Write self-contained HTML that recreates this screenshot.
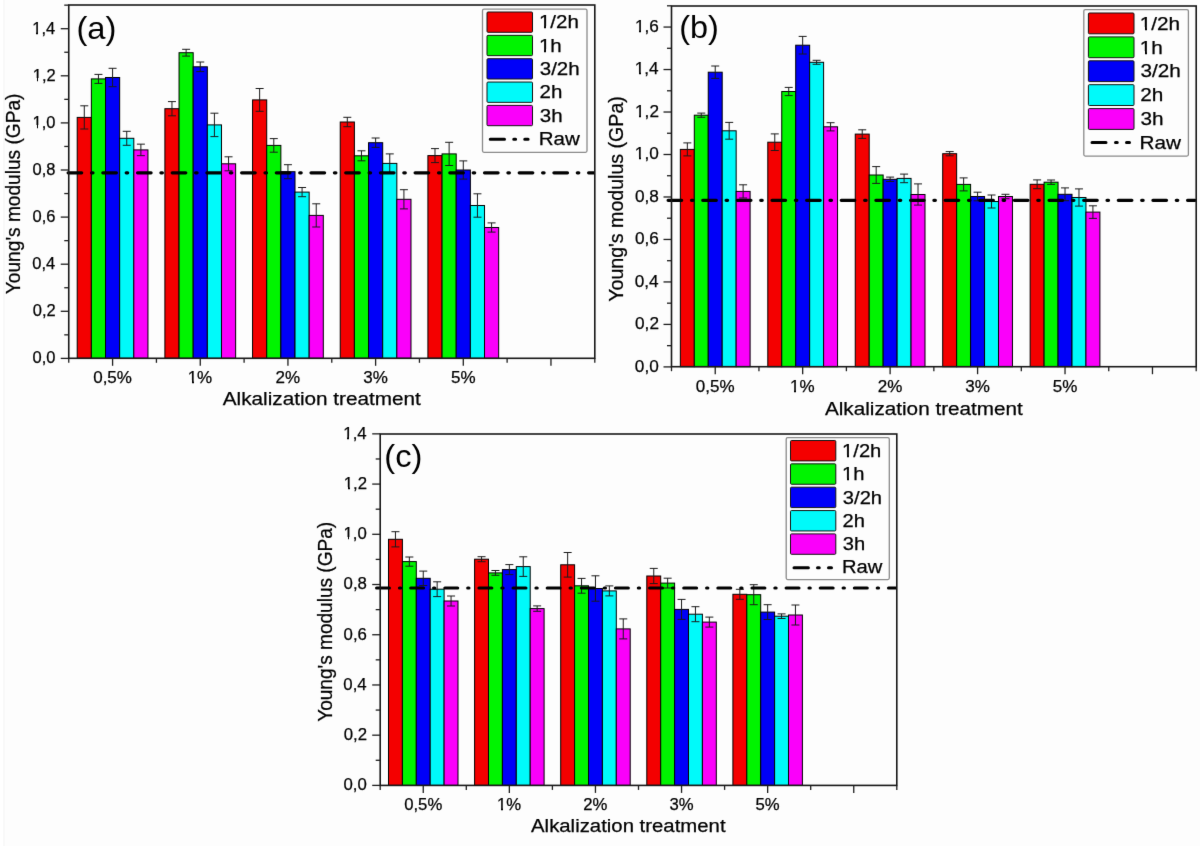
<!DOCTYPE html>
<html><head><meta charset="utf-8"><style>
html,body{margin:0;padding:0;background:#fdfdfd;}
svg{display:block;}
text{font-family:"Liberation Sans",sans-serif;stroke:#000;stroke-width:0.25px;}
</style></head><body>
<svg width="1200" height="846" viewBox="0 0 1200 846">
<defs><filter id="bl" color-interpolation-filters="sRGB" x="0" y="0" width="1200" height="846" filterUnits="userSpaceOnUse"><feConvolveMatrix order="3" kernelMatrix="0.00524 0.06192 0.00524 0.06192 0.73137 0.06192 0.00524 0.06192 0.00524" divisor="1" edgeMode="duplicate" preserveAlpha="true"/></filter></defs>
<g filter="url(#bl)">
<rect width="1200" height="846" fill="#fdfdfd"/>
<rect width="3.2" height="846" fill="#ffffff"/>
<rect x="3.2" width="1.6" height="846" fill="#f8f8f8"/>
<rect x="77.21" y="117.40" width="14.15" height="240.90" fill="#f40000" stroke="#000" stroke-width="1"/>
<rect x="91.36" y="78.90" width="14.15" height="279.40" fill="#00f400" stroke="#000" stroke-width="1"/>
<rect x="105.51" y="77.50" width="14.15" height="280.80" fill="#0000f8" stroke="#000" stroke-width="1"/>
<rect x="119.66" y="138.30" width="14.15" height="220.00" fill="#00fafa" stroke="#000" stroke-width="1"/>
<rect x="133.81" y="149.90" width="14.15" height="208.40" fill="#fa00fa" stroke="#000" stroke-width="1"/>
<rect x="164.89" y="108.70" width="14.15" height="249.60" fill="#f40000" stroke="#000" stroke-width="1"/>
<rect x="179.04" y="52.70" width="14.15" height="305.60" fill="#00f400" stroke="#000" stroke-width="1"/>
<rect x="193.19" y="66.80" width="14.15" height="291.50" fill="#0000f8" stroke="#000" stroke-width="1"/>
<rect x="207.34" y="124.90" width="14.15" height="233.40" fill="#00fafa" stroke="#000" stroke-width="1"/>
<rect x="221.49" y="163.80" width="14.15" height="194.50" fill="#fa00fa" stroke="#000" stroke-width="1"/>
<rect x="252.56" y="99.90" width="14.15" height="258.40" fill="#f40000" stroke="#000" stroke-width="1"/>
<rect x="266.71" y="145.40" width="14.15" height="212.90" fill="#00f400" stroke="#000" stroke-width="1"/>
<rect x="280.86" y="171.70" width="14.15" height="186.60" fill="#0000f8" stroke="#000" stroke-width="1"/>
<rect x="295.01" y="192.10" width="14.15" height="166.20" fill="#00fafa" stroke="#000" stroke-width="1"/>
<rect x="309.16" y="215.40" width="14.15" height="142.90" fill="#fa00fa" stroke="#000" stroke-width="1"/>
<rect x="340.24" y="122.00" width="14.15" height="236.30" fill="#f40000" stroke="#000" stroke-width="1"/>
<rect x="354.39" y="155.80" width="14.15" height="202.50" fill="#00f400" stroke="#000" stroke-width="1"/>
<rect x="368.54" y="142.70" width="14.15" height="215.60" fill="#0000f8" stroke="#000" stroke-width="1"/>
<rect x="382.69" y="163.40" width="14.15" height="194.90" fill="#00fafa" stroke="#000" stroke-width="1"/>
<rect x="396.84" y="199.30" width="14.15" height="159.00" fill="#fa00fa" stroke="#000" stroke-width="1"/>
<rect x="427.91" y="155.60" width="14.15" height="202.70" fill="#f40000" stroke="#000" stroke-width="1"/>
<rect x="442.06" y="153.90" width="14.15" height="204.40" fill="#00f400" stroke="#000" stroke-width="1"/>
<rect x="456.21" y="170.00" width="14.15" height="188.30" fill="#0000f8" stroke="#000" stroke-width="1"/>
<rect x="470.36" y="205.50" width="14.15" height="152.80" fill="#00fafa" stroke="#000" stroke-width="1"/>
<rect x="484.51" y="227.50" width="14.15" height="130.80" fill="#fa00fa" stroke="#000" stroke-width="1"/>
<path d="M84.29,105.80V129.00M80.29,105.80H88.29M80.29,129.00H88.29" stroke="#1a1a1a" stroke-width="1" fill="none"/>
<path d="M98.44,74.40V83.40M94.44,74.40H102.44M94.44,83.40H102.44" stroke="#1a1a1a" stroke-width="1" fill="none"/>
<path d="M112.59,68.30V86.70M108.59,68.30H116.59M108.59,86.70H116.59" stroke="#1a1a1a" stroke-width="1" fill="none"/>
<path d="M126.74,131.30V145.30M122.74,131.30H130.74M122.74,145.30H130.74" stroke="#1a1a1a" stroke-width="1" fill="none"/>
<path d="M140.89,144.15V155.65M136.89,144.15H144.89M136.89,155.65H144.89" stroke="#1a1a1a" stroke-width="1" fill="none"/>
<path d="M171.96,101.60V115.80M167.96,101.60H175.96M167.96,115.80H175.96" stroke="#1a1a1a" stroke-width="1" fill="none"/>
<path d="M186.11,49.30V56.10M182.11,49.30H190.11M182.11,56.10H190.11" stroke="#1a1a1a" stroke-width="1" fill="none"/>
<path d="M200.26,62.00V71.60M196.26,62.00H204.26M196.26,71.60H204.26" stroke="#1a1a1a" stroke-width="1" fill="none"/>
<path d="M214.41,113.20V136.60M210.41,113.20H218.41M210.41,136.60H218.41" stroke="#1a1a1a" stroke-width="1" fill="none"/>
<path d="M228.56,156.80V170.80M224.56,156.80H232.56M224.56,170.80H232.56" stroke="#1a1a1a" stroke-width="1" fill="none"/>
<path d="M259.64,88.50V111.30M255.64,88.50H263.64M255.64,111.30H263.64" stroke="#1a1a1a" stroke-width="1" fill="none"/>
<path d="M273.79,138.60V152.20M269.79,138.60H277.79M269.79,152.20H277.79" stroke="#1a1a1a" stroke-width="1" fill="none"/>
<path d="M287.94,164.70V178.70M283.94,164.70H291.94M283.94,178.70H291.94" stroke="#1a1a1a" stroke-width="1" fill="none"/>
<path d="M302.09,187.50V196.70M298.09,187.50H306.09M298.09,196.70H306.09" stroke="#1a1a1a" stroke-width="1" fill="none"/>
<path d="M316.24,203.80V227.00M312.24,203.80H320.24M312.24,227.00H320.24" stroke="#1a1a1a" stroke-width="1" fill="none"/>
<path d="M347.31,117.30V126.70M343.31,117.30H351.31M343.31,126.70H351.31" stroke="#1a1a1a" stroke-width="1" fill="none"/>
<path d="M361.46,150.80V160.80M357.46,150.80H365.46M357.46,160.80H365.46" stroke="#1a1a1a" stroke-width="1" fill="none"/>
<path d="M375.61,138.00V147.40M371.61,138.00H379.61M371.61,147.40H379.61" stroke="#1a1a1a" stroke-width="1" fill="none"/>
<path d="M389.76,153.90V172.90M385.76,153.90H393.76M385.76,172.90H393.76" stroke="#1a1a1a" stroke-width="1" fill="none"/>
<path d="M403.91,189.70V208.90M399.91,189.70H407.91M399.91,208.90H407.91" stroke="#1a1a1a" stroke-width="1" fill="none"/>
<path d="M434.99,148.60V162.60M430.99,148.60H438.99M430.99,162.60H438.99" stroke="#1a1a1a" stroke-width="1" fill="none"/>
<path d="M449.14,142.30V165.50M445.14,142.30H453.14M445.14,165.50H453.14" stroke="#1a1a1a" stroke-width="1" fill="none"/>
<path d="M463.29,160.90V179.10M459.29,160.90H467.29M459.29,179.10H467.29" stroke="#1a1a1a" stroke-width="1" fill="none"/>
<path d="M477.44,193.80V217.20M473.44,193.80H481.44M473.44,217.20H481.44" stroke="#1a1a1a" stroke-width="1" fill="none"/>
<path d="M491.59,222.90V232.10M487.59,222.90H495.59M487.59,232.10H495.59" stroke="#1a1a1a" stroke-width="1" fill="none"/>
<clipPath id="clipa"><rect x="63.50" y="167.80" width="531.30" height="10"/></clipPath>
<path d="M68.10,172.80H81.70M91.50,172.80H93.00M102.80,172.80H116.40M126.20,172.80H127.70M137.50,172.80H151.10M160.90,172.80H162.40M172.20,172.80H185.80M195.60,172.80H197.10M206.90,172.80H220.50M230.30,172.80H231.80M241.60,172.80H255.20M265.00,172.80H266.50M276.30,172.80H289.90M299.70,172.80H301.20M311.00,172.80H324.60M334.40,172.80H335.90M345.70,172.80H359.30M369.10,172.80H370.60M380.40,172.80H394.00M403.80,172.80H405.30M415.10,172.80H428.70M438.50,172.80H440.00M449.80,172.80H463.40M473.20,172.80H474.70M484.50,172.80H498.10M507.90,172.80H509.40M519.20,172.80H532.80M542.60,172.80H544.10M553.90,172.80H567.50M577.30,172.80H578.80M588.60,172.80H593.70" stroke="#000" stroke-width="3.2" stroke-linecap="round" fill="none" clip-path="url(#clipa)"/>
<rect x="68.75" y="5.00" width="526.05" height="353.30" fill="none" stroke="#181818" stroke-width="1.6"/>
<line x1="60.75" y1="358.40" x2="68.75" y2="358.40" stroke="#1e1e1e" stroke-width="1.3"/>
<line x1="64.25" y1="334.85" x2="68.75" y2="334.85" stroke="#1e1e1e" stroke-width="1.3"/>
<line x1="60.75" y1="311.30" x2="68.75" y2="311.30" stroke="#1e1e1e" stroke-width="1.3"/>
<line x1="64.25" y1="287.75" x2="68.75" y2="287.75" stroke="#1e1e1e" stroke-width="1.3"/>
<line x1="60.75" y1="264.20" x2="68.75" y2="264.20" stroke="#1e1e1e" stroke-width="1.3"/>
<line x1="64.25" y1="240.65" x2="68.75" y2="240.65" stroke="#1e1e1e" stroke-width="1.3"/>
<line x1="60.75" y1="217.10" x2="68.75" y2="217.10" stroke="#1e1e1e" stroke-width="1.3"/>
<line x1="64.25" y1="193.55" x2="68.75" y2="193.55" stroke="#1e1e1e" stroke-width="1.3"/>
<line x1="60.75" y1="170.00" x2="68.75" y2="170.00" stroke="#1e1e1e" stroke-width="1.3"/>
<line x1="64.25" y1="146.45" x2="68.75" y2="146.45" stroke="#1e1e1e" stroke-width="1.3"/>
<line x1="60.75" y1="122.90" x2="68.75" y2="122.90" stroke="#1e1e1e" stroke-width="1.3"/>
<line x1="64.25" y1="99.35" x2="68.75" y2="99.35" stroke="#1e1e1e" stroke-width="1.3"/>
<line x1="60.75" y1="75.80" x2="68.75" y2="75.80" stroke="#1e1e1e" stroke-width="1.3"/>
<line x1="64.25" y1="52.25" x2="68.75" y2="52.25" stroke="#1e1e1e" stroke-width="1.3"/>
<line x1="60.75" y1="28.70" x2="68.75" y2="28.70" stroke="#1e1e1e" stroke-width="1.3"/>
<line x1="64.25" y1="5.15" x2="68.75" y2="5.15" stroke="#1e1e1e" stroke-width="1.3"/>
<line x1="68.75" y1="358.30" x2="68.75" y2="362.80" stroke="#1e1e1e" stroke-width="1.3"/>
<line x1="156.43" y1="358.30" x2="156.43" y2="362.80" stroke="#1e1e1e" stroke-width="1.3"/>
<line x1="244.10" y1="358.30" x2="244.10" y2="362.80" stroke="#1e1e1e" stroke-width="1.3"/>
<line x1="331.77" y1="358.30" x2="331.77" y2="362.80" stroke="#1e1e1e" stroke-width="1.3"/>
<line x1="419.45" y1="358.30" x2="419.45" y2="362.80" stroke="#1e1e1e" stroke-width="1.3"/>
<line x1="507.12" y1="358.30" x2="507.12" y2="362.80" stroke="#1e1e1e" stroke-width="1.3"/>
<line x1="594.80" y1="358.30" x2="594.80" y2="362.80" stroke="#1e1e1e" stroke-width="1.3"/>
<line x1="112.59" y1="358.30" x2="112.59" y2="365.80" stroke="#1e1e1e" stroke-width="1.3"/>
<line x1="200.26" y1="358.30" x2="200.26" y2="365.80" stroke="#1e1e1e" stroke-width="1.3"/>
<line x1="287.94" y1="358.30" x2="287.94" y2="365.80" stroke="#1e1e1e" stroke-width="1.3"/>
<line x1="375.61" y1="358.30" x2="375.61" y2="365.80" stroke="#1e1e1e" stroke-width="1.3"/>
<line x1="463.29" y1="358.30" x2="463.29" y2="365.80" stroke="#1e1e1e" stroke-width="1.3"/>
<line x1="550.96" y1="358.30" x2="550.96" y2="365.80" stroke="#1e1e1e" stroke-width="1.3"/>
<text x="32.51" y="363.20" font-size="16.00" textLength="22.91" lengthAdjust="spacingAndGlyphs" fill="#000">0,0</text>
<text x="32.72" y="316.10" font-size="16.00" textLength="22.91" lengthAdjust="spacingAndGlyphs" fill="#000">0,2</text>
<text x="32.35" y="269.00" font-size="16.00" textLength="22.91" lengthAdjust="spacingAndGlyphs" fill="#000">0,4</text>
<text x="32.59" y="221.90" font-size="16.00" textLength="22.91" lengthAdjust="spacingAndGlyphs" fill="#000">0,6</text>
<text x="32.59" y="174.80" font-size="16.00" textLength="22.91" lengthAdjust="spacingAndGlyphs" fill="#000">0,8</text>
<text x="32.51" y="127.70" font-size="16.00" textLength="22.91" lengthAdjust="spacingAndGlyphs" fill="#000">1,0</text>
<rect x="32.87" y="125.40" width="3.69" height="3.60" fill="#fdfdfd" shape-rendering="crispEdges"/>
<rect x="38.21" y="125.40" width="3.56" height="3.60" fill="#fdfdfd" shape-rendering="crispEdges"/>
<text x="32.72" y="80.60" font-size="16.00" textLength="22.91" lengthAdjust="spacingAndGlyphs" fill="#000">1,2</text>
<rect x="33.07" y="78.30" width="3.69" height="3.60" fill="#fdfdfd" shape-rendering="crispEdges"/>
<rect x="38.42" y="78.30" width="3.56" height="3.60" fill="#fdfdfd" shape-rendering="crispEdges"/>
<text x="32.35" y="33.50" font-size="16.00" textLength="22.91" lengthAdjust="spacingAndGlyphs" fill="#000">1,4</text>
<rect x="32.70" y="31.20" width="3.69" height="3.60" fill="#fdfdfd" shape-rendering="crispEdges"/>
<rect x="38.05" y="31.20" width="3.56" height="3.60" fill="#fdfdfd" shape-rendering="crispEdges"/>
<text x="93.19" y="382.70" font-size="17.00" fill="#000">0,5%</text>
<text x="187.66" y="382.70" font-size="17.00" fill="#000">1%</text>
<rect x="188.06" y="380.33" width="3.78" height="3.67" fill="#fdfdfd" shape-rendering="crispEdges"/>
<rect x="193.54" y="380.33" width="3.65" height="3.67" fill="#fdfdfd" shape-rendering="crispEdges"/>
<text x="275.55" y="382.70" font-size="17.00" fill="#000">2%</text>
<text x="363.33" y="382.70" font-size="17.00" fill="#000">3%</text>
<text x="450.98" y="382.70" font-size="17.00" fill="#000">5%</text>
<text x="222.75" y="404.90" font-size="18.70" textLength="198.12" lengthAdjust="spacingAndGlyphs" fill="#000">Alkalization treatment</text>
<text transform="translate(19.50,294.13) rotate(-90)" x="0" y="0" font-size="19.60" textLength="200.54" lengthAdjust="spacingAndGlyphs">Young&#39;s modulus (GPa)</text>
<text x="76.46" y="39.10" font-size="31.30" textLength="39.98" lengthAdjust="spacingAndGlyphs" fill="#000" style="stroke-width:0">(a)</text>
<rect x="482.50" y="9.20" width="104.50" height="143.10" rx="1.5" fill="#fdfdfd" stroke="#8a8a8a" stroke-width="1.3"/>
<rect x="487.00" y="12.00" width="45.50" height="20.30" rx="1" fill="#f40000" stroke="#111" stroke-width="1"/>
<rect x="487.00" y="35.35" width="45.50" height="20.30" rx="1" fill="#00f400" stroke="#111" stroke-width="1"/>
<rect x="487.00" y="58.70" width="45.50" height="20.30" rx="1" fill="#0000f8" stroke="#111" stroke-width="1"/>
<rect x="487.00" y="82.05" width="45.50" height="20.30" rx="1" fill="#00fafa" stroke="#111" stroke-width="1"/>
<rect x="487.00" y="105.40" width="45.50" height="20.30" rx="1" fill="#fa00fa" stroke="#111" stroke-width="1"/>
<text x="538.96" y="28.40" font-size="18.00" textLength="39.94" lengthAdjust="spacingAndGlyphs">1/2h</text>
<rect x="539.62" y="25.96" width="4.40" height="3.74" fill="#fdfdfd" shape-rendering="crispEdges"/>
<rect x="546.03" y="25.96" width="4.24" height="3.74" fill="#fdfdfd" shape-rendering="crispEdges"/>
<text x="538.96" y="51.75" font-size="18.00" textLength="22.83" lengthAdjust="spacingAndGlyphs">1h</text>
<rect x="539.62" y="49.31" width="4.40" height="3.74" fill="#fdfdfd" shape-rendering="crispEdges"/>
<rect x="546.03" y="49.31" width="4.24" height="3.74" fill="#fdfdfd" shape-rendering="crispEdges"/>
<text x="539.73" y="75.10" font-size="18.00" textLength="39.94" lengthAdjust="spacingAndGlyphs">3/2h</text>
<text x="539.47" y="98.45" font-size="18.00" textLength="22.83" lengthAdjust="spacingAndGlyphs">2h</text>
<text x="539.73" y="121.80" font-size="18.00" textLength="22.83" lengthAdjust="spacingAndGlyphs">3h</text>
<text x="538.81" y="145.15" font-size="18.00" textLength="41.05" lengthAdjust="spacingAndGlyphs">Raw</text>
<path d="M490.25,139.25H504.50M513.75,139.25H515.60M524.75,139.25H528.10" stroke="#000" stroke-width="3.0" stroke-linecap="round" fill="none"/>
<rect x="680.35" y="149.40" width="13.95" height="217.30" fill="#f40000" stroke="#000" stroke-width="1"/>
<rect x="694.30" y="115.20" width="13.95" height="251.50" fill="#00f400" stroke="#000" stroke-width="1"/>
<rect x="708.25" y="72.20" width="13.95" height="294.50" fill="#0000f8" stroke="#000" stroke-width="1"/>
<rect x="722.20" y="130.80" width="13.95" height="235.90" fill="#00fafa" stroke="#000" stroke-width="1"/>
<rect x="736.15" y="191.40" width="13.95" height="175.30" fill="#fa00fa" stroke="#000" stroke-width="1"/>
<rect x="767.80" y="142.20" width="13.95" height="224.50" fill="#f40000" stroke="#000" stroke-width="1"/>
<rect x="781.75" y="91.50" width="13.95" height="275.20" fill="#00f400" stroke="#000" stroke-width="1"/>
<rect x="795.70" y="45.20" width="13.95" height="321.50" fill="#0000f8" stroke="#000" stroke-width="1"/>
<rect x="809.65" y="62.30" width="13.95" height="304.40" fill="#00fafa" stroke="#000" stroke-width="1"/>
<rect x="823.60" y="126.80" width="13.95" height="239.90" fill="#fa00fa" stroke="#000" stroke-width="1"/>
<rect x="855.25" y="134.10" width="13.95" height="232.60" fill="#f40000" stroke="#000" stroke-width="1"/>
<rect x="869.20" y="175.00" width="13.95" height="191.70" fill="#00f400" stroke="#000" stroke-width="1"/>
<rect x="883.15" y="179.30" width="13.95" height="187.40" fill="#0000f8" stroke="#000" stroke-width="1"/>
<rect x="897.10" y="178.40" width="13.95" height="188.30" fill="#00fafa" stroke="#000" stroke-width="1"/>
<rect x="911.05" y="194.50" width="13.95" height="172.20" fill="#fa00fa" stroke="#000" stroke-width="1"/>
<rect x="942.70" y="153.70" width="13.95" height="213.00" fill="#f40000" stroke="#000" stroke-width="1"/>
<rect x="956.65" y="184.40" width="13.95" height="182.30" fill="#00f400" stroke="#000" stroke-width="1"/>
<rect x="970.60" y="196.50" width="13.95" height="170.20" fill="#0000f8" stroke="#000" stroke-width="1"/>
<rect x="984.55" y="201.50" width="13.95" height="165.20" fill="#00fafa" stroke="#000" stroke-width="1"/>
<rect x="998.50" y="196.50" width="13.95" height="170.20" fill="#fa00fa" stroke="#000" stroke-width="1"/>
<rect x="1030.15" y="184.30" width="13.95" height="182.40" fill="#f40000" stroke="#000" stroke-width="1"/>
<rect x="1044.10" y="182.20" width="13.95" height="184.50" fill="#00f400" stroke="#000" stroke-width="1"/>
<rect x="1058.05" y="194.30" width="13.95" height="172.40" fill="#0000f8" stroke="#000" stroke-width="1"/>
<rect x="1072.00" y="197.50" width="13.95" height="169.20" fill="#00fafa" stroke="#000" stroke-width="1"/>
<rect x="1085.95" y="212.10" width="13.95" height="154.60" fill="#fa00fa" stroke="#000" stroke-width="1"/>
<path d="M687.33,142.90V155.90M683.33,142.90H691.33M683.33,155.90H691.33" stroke="#1a1a1a" stroke-width="1" fill="none"/>
<path d="M701.28,113.10V117.30M697.28,113.10H705.28M697.28,117.30H705.28" stroke="#1a1a1a" stroke-width="1" fill="none"/>
<path d="M715.23,66.00V78.40M711.23,66.00H719.23M711.23,78.40H719.23" stroke="#1a1a1a" stroke-width="1" fill="none"/>
<path d="M729.18,122.40V139.20M725.18,122.40H733.18M725.18,139.20H733.18" stroke="#1a1a1a" stroke-width="1" fill="none"/>
<path d="M743.12,184.80V198.00M739.12,184.80H747.12M739.12,198.00H747.12" stroke="#1a1a1a" stroke-width="1" fill="none"/>
<path d="M774.77,133.90V150.50M770.77,133.90H778.77M770.77,150.50H778.77" stroke="#1a1a1a" stroke-width="1" fill="none"/>
<path d="M788.73,87.40V95.60M784.73,87.40H792.73M784.73,95.60H792.73" stroke="#1a1a1a" stroke-width="1" fill="none"/>
<path d="M802.67,36.40V54.00M798.67,36.40H806.67M798.67,54.00H806.67" stroke="#1a1a1a" stroke-width="1" fill="none"/>
<path d="M816.62,60.30V64.30M812.62,60.30H820.62M812.62,64.30H820.62" stroke="#1a1a1a" stroke-width="1" fill="none"/>
<path d="M830.57,122.70V130.90M826.57,122.70H834.57M826.57,130.90H834.57" stroke="#1a1a1a" stroke-width="1" fill="none"/>
<path d="M862.23,129.80V138.40M858.23,129.80H866.23M858.23,138.40H866.23" stroke="#1a1a1a" stroke-width="1" fill="none"/>
<path d="M876.18,166.60V183.40M872.18,166.60H880.18M872.18,183.40H880.18" stroke="#1a1a1a" stroke-width="1" fill="none"/>
<path d="M890.12,177.10V181.50M886.12,177.10H894.12M886.12,181.50H894.12" stroke="#1a1a1a" stroke-width="1" fill="none"/>
<path d="M904.08,174.10V182.70M900.08,174.10H908.08M900.08,182.70H908.08" stroke="#1a1a1a" stroke-width="1" fill="none"/>
<path d="M918.02,183.90V205.10M914.02,183.90H922.02M914.02,205.10H922.02" stroke="#1a1a1a" stroke-width="1" fill="none"/>
<path d="M949.68,151.60V155.80M945.68,151.60H953.68M945.68,155.80H953.68" stroke="#1a1a1a" stroke-width="1" fill="none"/>
<path d="M963.63,177.90V190.90M959.63,177.90H967.63M959.63,190.90H967.63" stroke="#1a1a1a" stroke-width="1" fill="none"/>
<path d="M977.58,192.20V200.80M973.58,192.20H981.58M973.58,200.80H981.58" stroke="#1a1a1a" stroke-width="1" fill="none"/>
<path d="M991.53,195.00V208.00M987.53,195.00H995.53M987.53,208.00H995.53" stroke="#1a1a1a" stroke-width="1" fill="none"/>
<path d="M1005.48,194.30V198.70M1001.48,194.30H1009.48M1001.48,198.70H1009.48" stroke="#1a1a1a" stroke-width="1" fill="none"/>
<path d="M1037.12,179.90V188.70M1033.12,179.90H1041.12M1033.12,188.70H1041.12" stroke="#1a1a1a" stroke-width="1" fill="none"/>
<path d="M1051.08,180.00V184.40M1047.08,180.00H1055.08M1047.08,184.40H1055.08" stroke="#1a1a1a" stroke-width="1" fill="none"/>
<path d="M1065.03,187.90V200.70M1061.03,187.90H1069.03M1061.03,200.70H1069.03" stroke="#1a1a1a" stroke-width="1" fill="none"/>
<path d="M1078.97,188.90V206.10M1074.97,188.90H1082.97M1074.97,206.10H1082.97" stroke="#1a1a1a" stroke-width="1" fill="none"/>
<path d="M1092.92,205.80V218.40M1088.92,205.80H1096.92M1088.92,218.40H1096.92" stroke="#1a1a1a" stroke-width="1" fill="none"/>
<clipPath id="clipb"><rect x="663.50" y="195.30" width="532.70" height="10"/></clipPath>
<path d="M668.10,200.30H681.70M691.47,200.30H692.97M702.73,200.30H716.33M726.10,200.30H727.60M737.36,200.30H750.96M760.73,200.30H762.23M771.99,200.30H785.59M795.36,200.30H796.86M806.62,200.30H820.22M829.99,200.30H831.49M841.25,200.30H854.85M864.62,200.30H866.12M875.88,200.30H889.48M899.25,200.30H900.75M910.51,200.30H924.11M933.88,200.30H935.38M945.14,200.30H958.74M968.50,200.30H970.00M979.77,200.30H993.37M1003.13,200.30H1004.63M1014.40,200.30H1028.00M1037.76,200.30H1039.27M1049.03,200.30H1062.63M1072.39,200.30H1073.90M1083.66,200.30H1097.26M1107.03,200.30H1108.53M1118.29,200.30H1131.89M1141.66,200.30H1143.16M1152.92,200.30H1166.52M1176.29,200.30H1177.79M1187.55,200.30H1195.10" stroke="#000" stroke-width="3.2" stroke-linecap="round" fill="none" clip-path="url(#clipb)"/>
<rect x="671.50" y="6.00" width="524.70" height="360.70" fill="none" stroke="#181818" stroke-width="1.6"/>
<line x1="663.50" y1="366.90" x2="671.50" y2="366.90" stroke="#1e1e1e" stroke-width="1.3"/>
<line x1="667.00" y1="345.66" x2="671.50" y2="345.66" stroke="#1e1e1e" stroke-width="1.3"/>
<line x1="663.50" y1="324.42" x2="671.50" y2="324.42" stroke="#1e1e1e" stroke-width="1.3"/>
<line x1="667.00" y1="303.18" x2="671.50" y2="303.18" stroke="#1e1e1e" stroke-width="1.3"/>
<line x1="663.50" y1="281.94" x2="671.50" y2="281.94" stroke="#1e1e1e" stroke-width="1.3"/>
<line x1="667.00" y1="260.70" x2="671.50" y2="260.70" stroke="#1e1e1e" stroke-width="1.3"/>
<line x1="663.50" y1="239.46" x2="671.50" y2="239.46" stroke="#1e1e1e" stroke-width="1.3"/>
<line x1="667.00" y1="218.22" x2="671.50" y2="218.22" stroke="#1e1e1e" stroke-width="1.3"/>
<line x1="663.50" y1="196.98" x2="671.50" y2="196.98" stroke="#1e1e1e" stroke-width="1.3"/>
<line x1="667.00" y1="175.74" x2="671.50" y2="175.74" stroke="#1e1e1e" stroke-width="1.3"/>
<line x1="663.50" y1="154.50" x2="671.50" y2="154.50" stroke="#1e1e1e" stroke-width="1.3"/>
<line x1="667.00" y1="133.26" x2="671.50" y2="133.26" stroke="#1e1e1e" stroke-width="1.3"/>
<line x1="663.50" y1="112.02" x2="671.50" y2="112.02" stroke="#1e1e1e" stroke-width="1.3"/>
<line x1="667.00" y1="90.78" x2="671.50" y2="90.78" stroke="#1e1e1e" stroke-width="1.3"/>
<line x1="663.50" y1="69.54" x2="671.50" y2="69.54" stroke="#1e1e1e" stroke-width="1.3"/>
<line x1="667.00" y1="48.30" x2="671.50" y2="48.30" stroke="#1e1e1e" stroke-width="1.3"/>
<line x1="663.50" y1="27.06" x2="671.50" y2="27.06" stroke="#1e1e1e" stroke-width="1.3"/>
<line x1="667.00" y1="5.82" x2="671.50" y2="5.82" stroke="#1e1e1e" stroke-width="1.3"/>
<line x1="671.50" y1="366.70" x2="671.50" y2="371.20" stroke="#1e1e1e" stroke-width="1.3"/>
<line x1="758.95" y1="366.70" x2="758.95" y2="371.20" stroke="#1e1e1e" stroke-width="1.3"/>
<line x1="846.40" y1="366.70" x2="846.40" y2="371.20" stroke="#1e1e1e" stroke-width="1.3"/>
<line x1="933.85" y1="366.70" x2="933.85" y2="371.20" stroke="#1e1e1e" stroke-width="1.3"/>
<line x1="1021.30" y1="366.70" x2="1021.30" y2="371.20" stroke="#1e1e1e" stroke-width="1.3"/>
<line x1="1108.75" y1="366.70" x2="1108.75" y2="371.20" stroke="#1e1e1e" stroke-width="1.3"/>
<line x1="1196.20" y1="366.70" x2="1196.20" y2="371.20" stroke="#1e1e1e" stroke-width="1.3"/>
<line x1="715.23" y1="366.70" x2="715.23" y2="374.20" stroke="#1e1e1e" stroke-width="1.3"/>
<line x1="802.67" y1="366.70" x2="802.67" y2="374.20" stroke="#1e1e1e" stroke-width="1.3"/>
<line x1="890.12" y1="366.70" x2="890.12" y2="374.20" stroke="#1e1e1e" stroke-width="1.3"/>
<line x1="977.58" y1="366.70" x2="977.58" y2="374.20" stroke="#1e1e1e" stroke-width="1.3"/>
<line x1="1065.03" y1="366.70" x2="1065.03" y2="374.20" stroke="#1e1e1e" stroke-width="1.3"/>
<line x1="1152.47" y1="366.70" x2="1152.47" y2="374.20" stroke="#1e1e1e" stroke-width="1.3"/>
<text x="634.84" y="371.70" font-size="17.20" fill="#000">0,0</text>
<text x="635.05" y="329.22" font-size="17.20" fill="#000">0,2</text>
<text x="634.67" y="286.74" font-size="17.20" fill="#000">0,4</text>
<text x="634.92" y="244.26" font-size="17.20" fill="#000">0,6</text>
<text x="634.92" y="201.78" font-size="17.20" fill="#000">0,8</text>
<text x="634.84" y="159.30" font-size="17.20" fill="#000">1,0</text>
<rect x="635.25" y="156.92" width="3.82" height="3.68" fill="#fdfdfd" shape-rendering="crispEdges"/>
<rect x="640.78" y="156.92" width="3.68" height="3.68" fill="#fdfdfd" shape-rendering="crispEdges"/>
<text x="635.05" y="116.82" font-size="17.20" fill="#000">1,2</text>
<rect x="635.46" y="114.44" width="3.82" height="3.68" fill="#fdfdfd" shape-rendering="crispEdges"/>
<rect x="641.00" y="114.44" width="3.68" height="3.68" fill="#fdfdfd" shape-rendering="crispEdges"/>
<text x="634.67" y="74.34" font-size="17.20" fill="#000">1,4</text>
<rect x="635.08" y="71.96" width="3.82" height="3.68" fill="#fdfdfd" shape-rendering="crispEdges"/>
<rect x="640.61" y="71.96" width="3.68" height="3.68" fill="#fdfdfd" shape-rendering="crispEdges"/>
<text x="634.92" y="31.86" font-size="17.20" fill="#000">1,6</text>
<rect x="635.33" y="29.48" width="3.82" height="3.68" fill="#fdfdfd" shape-rendering="crispEdges"/>
<rect x="640.87" y="29.48" width="3.68" height="3.68" fill="#fdfdfd" shape-rendering="crispEdges"/>
<text x="695.82" y="391.70" font-size="17.00" fill="#000">0,5%</text>
<text x="790.07" y="391.70" font-size="17.00" fill="#000">1%</text>
<rect x="790.47" y="389.33" width="3.78" height="3.67" fill="#fdfdfd" shape-rendering="crispEdges"/>
<rect x="795.95" y="389.33" width="3.65" height="3.67" fill="#fdfdfd" shape-rendering="crispEdges"/>
<text x="877.74" y="391.70" font-size="17.00" fill="#000">2%</text>
<text x="965.29" y="391.70" font-size="17.00" fill="#000">3%</text>
<text x="1052.72" y="391.70" font-size="17.00" fill="#000">5%</text>
<text x="824.95" y="414.90" font-size="18.90" textLength="197.92" lengthAdjust="spacingAndGlyphs" fill="#000">Alkalization treatment</text>
<text transform="translate(622.80,301.74) rotate(-90)" x="0" y="0" font-size="20.00" textLength="205.58" lengthAdjust="spacingAndGlyphs">Young&#39;s modulus (GPa)</text>
<text x="679.27" y="37.90" font-size="31.10" textLength="39.64" lengthAdjust="spacingAndGlyphs" fill="#000" style="stroke-width:0">(b)</text>
<rect x="1083.80" y="9.60" width="104.60" height="146.50" rx="1.5" fill="#fdfdfd" stroke="#8a8a8a" stroke-width="1.3"/>
<rect x="1088.40" y="13.00" width="45.60" height="20.80" rx="1" fill="#f40000" stroke="#111" stroke-width="1"/>
<rect x="1088.40" y="36.90" width="45.60" height="20.80" rx="1" fill="#00f400" stroke="#111" stroke-width="1"/>
<rect x="1088.40" y="60.80" width="45.60" height="20.80" rx="1" fill="#0000f8" stroke="#111" stroke-width="1"/>
<rect x="1088.40" y="84.70" width="45.60" height="20.80" rx="1" fill="#00fafa" stroke="#111" stroke-width="1"/>
<rect x="1088.40" y="108.60" width="45.60" height="20.80" rx="1" fill="#fa00fa" stroke="#111" stroke-width="1"/>
<text x="1139.74" y="29.60" font-size="18.20" textLength="40.38" lengthAdjust="spacingAndGlyphs">1/2h</text>
<rect x="1140.42" y="27.14" width="4.44" height="3.76" fill="#fdfdfd" shape-rendering="crispEdges"/>
<rect x="1146.89" y="27.14" width="4.27" height="3.76" fill="#fdfdfd" shape-rendering="crispEdges"/>
<text x="1139.74" y="53.50" font-size="18.20" textLength="23.08" lengthAdjust="spacingAndGlyphs">1h</text>
<rect x="1140.42" y="51.04" width="4.44" height="3.76" fill="#fdfdfd" shape-rendering="crispEdges"/>
<rect x="1146.89" y="51.04" width="4.27" height="3.76" fill="#fdfdfd" shape-rendering="crispEdges"/>
<text x="1140.52" y="77.40" font-size="18.20" textLength="40.38" lengthAdjust="spacingAndGlyphs">3/2h</text>
<text x="1140.26" y="101.30" font-size="18.20" textLength="23.08" lengthAdjust="spacingAndGlyphs">2h</text>
<text x="1140.52" y="125.20" font-size="18.20" textLength="23.08" lengthAdjust="spacingAndGlyphs">3h</text>
<text x="1139.59" y="149.10" font-size="18.20" textLength="41.51" lengthAdjust="spacingAndGlyphs">Raw</text>
<path d="M1092.00,142.50H1106.00M1115.50,142.50H1117.25M1126.50,142.50H1129.50" stroke="#000" stroke-width="3.0" stroke-linecap="round" fill="none"/>
<rect x="388.50" y="539.30" width="13.90" height="246.10" fill="#f40000" stroke="#000" stroke-width="1"/>
<rect x="402.40" y="561.60" width="13.90" height="223.80" fill="#00f400" stroke="#000" stroke-width="1"/>
<rect x="416.30" y="578.30" width="13.90" height="207.10" fill="#0000f8" stroke="#000" stroke-width="1"/>
<rect x="430.20" y="589.20" width="13.90" height="196.20" fill="#00fafa" stroke="#000" stroke-width="1"/>
<rect x="444.10" y="601.00" width="13.90" height="184.40" fill="#fa00fa" stroke="#000" stroke-width="1"/>
<rect x="474.60" y="559.20" width="13.90" height="226.20" fill="#f40000" stroke="#000" stroke-width="1"/>
<rect x="488.50" y="572.90" width="13.90" height="212.50" fill="#00f400" stroke="#000" stroke-width="1"/>
<rect x="502.40" y="569.60" width="13.90" height="215.80" fill="#0000f8" stroke="#000" stroke-width="1"/>
<rect x="516.30" y="566.60" width="13.90" height="218.80" fill="#00fafa" stroke="#000" stroke-width="1"/>
<rect x="530.20" y="608.60" width="13.90" height="176.80" fill="#fa00fa" stroke="#000" stroke-width="1"/>
<rect x="560.70" y="564.80" width="13.90" height="220.60" fill="#f40000" stroke="#000" stroke-width="1"/>
<rect x="574.60" y="585.80" width="13.90" height="199.60" fill="#00f400" stroke="#000" stroke-width="1"/>
<rect x="588.50" y="588.50" width="13.90" height="196.90" fill="#0000f8" stroke="#000" stroke-width="1"/>
<rect x="602.40" y="590.90" width="13.90" height="194.50" fill="#00fafa" stroke="#000" stroke-width="1"/>
<rect x="616.30" y="628.90" width="13.90" height="156.50" fill="#fa00fa" stroke="#000" stroke-width="1"/>
<rect x="646.80" y="576.00" width="13.90" height="209.40" fill="#f40000" stroke="#000" stroke-width="1"/>
<rect x="660.70" y="583.10" width="13.90" height="202.30" fill="#00f400" stroke="#000" stroke-width="1"/>
<rect x="674.60" y="609.40" width="13.90" height="176.00" fill="#0000f8" stroke="#000" stroke-width="1"/>
<rect x="688.50" y="614.20" width="13.90" height="171.20" fill="#00fafa" stroke="#000" stroke-width="1"/>
<rect x="702.40" y="622.10" width="13.90" height="163.30" fill="#fa00fa" stroke="#000" stroke-width="1"/>
<rect x="732.90" y="594.30" width="13.90" height="191.10" fill="#f40000" stroke="#000" stroke-width="1"/>
<rect x="746.80" y="594.70" width="13.90" height="190.70" fill="#00f400" stroke="#000" stroke-width="1"/>
<rect x="760.70" y="612.10" width="13.90" height="173.30" fill="#0000f8" stroke="#000" stroke-width="1"/>
<rect x="774.60" y="616.20" width="13.90" height="169.20" fill="#00fafa" stroke="#000" stroke-width="1"/>
<rect x="788.50" y="615.00" width="13.90" height="170.40" fill="#fa00fa" stroke="#000" stroke-width="1"/>
<path d="M395.45,531.70V546.90M391.45,531.70H399.45M391.45,546.90H399.45" stroke="#1a1a1a" stroke-width="1" fill="none"/>
<path d="M409.35,557.00V566.20M405.35,557.00H413.35M405.35,566.20H413.35" stroke="#1a1a1a" stroke-width="1" fill="none"/>
<path d="M423.25,571.10V585.50M419.25,571.10H427.25M419.25,585.50H427.25" stroke="#1a1a1a" stroke-width="1" fill="none"/>
<path d="M437.15,581.80V596.60M433.15,581.80H441.15M433.15,596.60H441.15" stroke="#1a1a1a" stroke-width="1" fill="none"/>
<path d="M451.05,596.00V606.00M447.05,596.00H455.05M447.05,606.00H455.05" stroke="#1a1a1a" stroke-width="1" fill="none"/>
<path d="M481.55,556.70V561.70M477.55,556.70H485.55M477.55,561.70H485.55" stroke="#1a1a1a" stroke-width="1" fill="none"/>
<path d="M495.45,570.50V575.30M491.45,570.50H499.45M491.45,575.30H499.45" stroke="#1a1a1a" stroke-width="1" fill="none"/>
<path d="M509.35,564.60V574.60M505.35,564.60H513.35M505.35,574.60H513.35" stroke="#1a1a1a" stroke-width="1" fill="none"/>
<path d="M523.25,556.80V576.40M519.25,556.80H527.25M519.25,576.40H527.25" stroke="#1a1a1a" stroke-width="1" fill="none"/>
<path d="M537.15,605.90V611.30M533.15,605.90H541.15M533.15,611.30H541.15" stroke="#1a1a1a" stroke-width="1" fill="none"/>
<path d="M567.65,552.50V577.10M563.65,552.50H571.65M563.65,577.10H571.65" stroke="#1a1a1a" stroke-width="1" fill="none"/>
<path d="M581.55,578.40V593.20M577.55,578.40H585.55M577.55,593.20H585.55" stroke="#1a1a1a" stroke-width="1" fill="none"/>
<path d="M595.45,575.80V601.20M591.45,575.80H599.45M591.45,601.20H599.45" stroke="#1a1a1a" stroke-width="1" fill="none"/>
<path d="M609.35,585.90V595.90M605.35,585.90H613.35M605.35,595.90H613.35" stroke="#1a1a1a" stroke-width="1" fill="none"/>
<path d="M623.25,618.90V638.90M619.25,618.90H627.25M619.25,638.90H627.25" stroke="#1a1a1a" stroke-width="1" fill="none"/>
<path d="M653.75,568.40V583.60M649.75,568.40H657.75M649.75,583.60H657.75" stroke="#1a1a1a" stroke-width="1" fill="none"/>
<path d="M667.65,578.20V588.00M663.65,578.20H671.65M663.65,588.00H671.65" stroke="#1a1a1a" stroke-width="1" fill="none"/>
<path d="M681.55,599.40V619.40M677.55,599.40H685.55M677.55,619.40H685.55" stroke="#1a1a1a" stroke-width="1" fill="none"/>
<path d="M695.45,606.70V621.70M691.45,606.70H699.45M691.45,621.70H699.45" stroke="#1a1a1a" stroke-width="1" fill="none"/>
<path d="M709.35,617.10V627.10M705.35,617.10H713.35M705.35,627.10H713.35" stroke="#1a1a1a" stroke-width="1" fill="none"/>
<path d="M739.85,589.30V599.30M735.85,589.30H743.85M735.85,599.30H743.85" stroke="#1a1a1a" stroke-width="1" fill="none"/>
<path d="M753.75,584.70V604.70M749.75,584.70H757.75M749.75,604.70H757.75" stroke="#1a1a1a" stroke-width="1" fill="none"/>
<path d="M767.65,604.70V619.50M763.65,604.70H771.65M763.65,619.50H771.65" stroke="#1a1a1a" stroke-width="1" fill="none"/>
<path d="M781.55,613.90V618.50M777.55,613.90H785.55M777.55,618.50H785.55" stroke="#1a1a1a" stroke-width="1" fill="none"/>
<path d="M795.45,605.00V625.00M791.45,605.00H799.45M791.45,625.00H799.45" stroke="#1a1a1a" stroke-width="1" fill="none"/>
<clipPath id="clipc"><rect x="372.00" y="583.00" width="524.80" height="10"/></clipPath>
<path d="M376.60,588.00H389.40M399.47,588.00H400.66M410.73,588.00H423.53M433.60,588.00H434.79M444.86,588.00H457.66M467.73,588.00H468.92M478.99,588.00H491.79M501.86,588.00H503.05M513.12,588.00H525.92M535.99,588.00H537.18M547.25,588.00H560.05M570.12,588.00H571.31M581.38,588.00H594.18M604.25,588.00H605.44M615.51,588.00H628.31M638.38,588.00H639.57M649.64,588.00H662.44M672.50,588.00H673.70M683.77,588.00H696.57M706.63,588.00H707.83M717.90,588.00H730.70M740.76,588.00H741.96M752.03,588.00H764.83M774.89,588.00H776.09M786.16,588.00H798.96M809.02,588.00H810.22M820.29,588.00H833.09M843.15,588.00H844.35M854.42,588.00H867.22M877.28,588.00H878.48M888.55,588.00H895.70" stroke="#000" stroke-width="3.2" stroke-linecap="round" fill="none" clip-path="url(#clipc)"/>
<rect x="380.20" y="434.00" width="516.60" height="351.40" fill="none" stroke="#181818" stroke-width="1.6"/>
<line x1="372.20" y1="785.40" x2="380.20" y2="785.40" stroke="#1e1e1e" stroke-width="1.3"/>
<line x1="375.70" y1="760.29" x2="380.20" y2="760.29" stroke="#1e1e1e" stroke-width="1.3"/>
<line x1="372.20" y1="735.18" x2="380.20" y2="735.18" stroke="#1e1e1e" stroke-width="1.3"/>
<line x1="375.70" y1="710.07" x2="380.20" y2="710.07" stroke="#1e1e1e" stroke-width="1.3"/>
<line x1="372.20" y1="684.96" x2="380.20" y2="684.96" stroke="#1e1e1e" stroke-width="1.3"/>
<line x1="375.70" y1="659.85" x2="380.20" y2="659.85" stroke="#1e1e1e" stroke-width="1.3"/>
<line x1="372.20" y1="634.74" x2="380.20" y2="634.74" stroke="#1e1e1e" stroke-width="1.3"/>
<line x1="375.70" y1="609.63" x2="380.20" y2="609.63" stroke="#1e1e1e" stroke-width="1.3"/>
<line x1="372.20" y1="584.52" x2="380.20" y2="584.52" stroke="#1e1e1e" stroke-width="1.3"/>
<line x1="375.70" y1="559.41" x2="380.20" y2="559.41" stroke="#1e1e1e" stroke-width="1.3"/>
<line x1="372.20" y1="534.30" x2="380.20" y2="534.30" stroke="#1e1e1e" stroke-width="1.3"/>
<line x1="375.70" y1="509.19" x2="380.20" y2="509.19" stroke="#1e1e1e" stroke-width="1.3"/>
<line x1="372.20" y1="484.08" x2="380.20" y2="484.08" stroke="#1e1e1e" stroke-width="1.3"/>
<line x1="375.70" y1="458.97" x2="380.20" y2="458.97" stroke="#1e1e1e" stroke-width="1.3"/>
<line x1="372.20" y1="433.86" x2="380.20" y2="433.86" stroke="#1e1e1e" stroke-width="1.3"/>
<line x1="380.20" y1="785.40" x2="380.20" y2="789.90" stroke="#1e1e1e" stroke-width="1.3"/>
<line x1="466.30" y1="785.40" x2="466.30" y2="789.90" stroke="#1e1e1e" stroke-width="1.3"/>
<line x1="552.40" y1="785.40" x2="552.40" y2="789.90" stroke="#1e1e1e" stroke-width="1.3"/>
<line x1="638.50" y1="785.40" x2="638.50" y2="789.90" stroke="#1e1e1e" stroke-width="1.3"/>
<line x1="724.60" y1="785.40" x2="724.60" y2="789.90" stroke="#1e1e1e" stroke-width="1.3"/>
<line x1="810.70" y1="785.40" x2="810.70" y2="789.90" stroke="#1e1e1e" stroke-width="1.3"/>
<line x1="896.80" y1="785.40" x2="896.80" y2="789.90" stroke="#1e1e1e" stroke-width="1.3"/>
<line x1="423.25" y1="785.40" x2="423.25" y2="792.90" stroke="#1e1e1e" stroke-width="1.3"/>
<line x1="509.35" y1="785.40" x2="509.35" y2="792.90" stroke="#1e1e1e" stroke-width="1.3"/>
<line x1="595.45" y1="785.40" x2="595.45" y2="792.90" stroke="#1e1e1e" stroke-width="1.3"/>
<line x1="681.55" y1="785.40" x2="681.55" y2="792.90" stroke="#1e1e1e" stroke-width="1.3"/>
<line x1="767.65" y1="785.40" x2="767.65" y2="792.90" stroke="#1e1e1e" stroke-width="1.3"/>
<line x1="853.75" y1="785.40" x2="853.75" y2="792.90" stroke="#1e1e1e" stroke-width="1.3"/>
<text x="343.48" y="790.30" font-size="16.80" fill="#000">0,0</text>
<text x="343.69" y="740.08" font-size="16.80" fill="#000">0,2</text>
<text x="343.31" y="689.86" font-size="16.80" fill="#000">0,4</text>
<text x="343.56" y="639.64" font-size="16.80" fill="#000">0,6</text>
<text x="343.56" y="589.42" font-size="16.80" fill="#000">0,8</text>
<text x="343.48" y="539.20" font-size="16.80" fill="#000">1,0</text>
<rect x="343.86" y="536.84" width="3.74" height="3.66" fill="#fdfdfd" shape-rendering="crispEdges"/>
<rect x="349.29" y="536.84" width="3.61" height="3.66" fill="#fdfdfd" shape-rendering="crispEdges"/>
<text x="343.69" y="488.98" font-size="16.80" fill="#000">1,2</text>
<rect x="344.07" y="486.62" width="3.74" height="3.66" fill="#fdfdfd" shape-rendering="crispEdges"/>
<rect x="349.50" y="486.62" width="3.61" height="3.66" fill="#fdfdfd" shape-rendering="crispEdges"/>
<text x="343.31" y="438.76" font-size="16.80" fill="#000">1,4</text>
<rect x="343.69" y="436.40" width="3.74" height="3.66" fill="#fdfdfd" shape-rendering="crispEdges"/>
<rect x="349.12" y="436.40" width="3.61" height="3.66" fill="#fdfdfd" shape-rendering="crispEdges"/>
<text x="404.19" y="810.00" font-size="16.70" fill="#000">0,5%</text>
<text x="496.97" y="810.00" font-size="16.70" fill="#000">1%</text>
<rect x="497.34" y="807.65" width="3.73" height="3.65" fill="#fdfdfd" shape-rendering="crispEdges"/>
<rect x="502.75" y="807.65" width="3.60" height="3.65" fill="#fdfdfd" shape-rendering="crispEdges"/>
<text x="583.28" y="810.00" font-size="16.70" fill="#000">2%</text>
<text x="669.48" y="810.00" font-size="16.70" fill="#000">3%</text>
<text x="755.56" y="810.00" font-size="16.70" fill="#000">5%</text>
<text x="531.05" y="832.40" font-size="18.80" textLength="194.51" lengthAdjust="spacingAndGlyphs" fill="#000">Alkalization treatment</text>
<text transform="translate(331.90,721.83) rotate(-90)" x="0" y="0" font-size="19.70" textLength="200.04" lengthAdjust="spacingAndGlyphs">Young&#39;s modulus (GPa)</text>
<text x="384.36" y="467.10" font-size="31.30" textLength="38.12" lengthAdjust="spacingAndGlyphs" fill="#000" style="stroke-width:0">(c)</text>
<rect x="786.20" y="437.70" width="103.10" height="141.90" rx="1.5" fill="#fdfdfd" stroke="#8a8a8a" stroke-width="1.3"/>
<rect x="790.50" y="440.50" width="45.30" height="20.40" rx="1" fill="#f40000" stroke="#111" stroke-width="1"/>
<rect x="790.50" y="463.85" width="45.30" height="20.40" rx="1" fill="#00f400" stroke="#111" stroke-width="1"/>
<rect x="790.50" y="487.20" width="45.30" height="20.40" rx="1" fill="#0000f8" stroke="#111" stroke-width="1"/>
<rect x="790.50" y="510.55" width="45.30" height="20.40" rx="1" fill="#00fafa" stroke="#111" stroke-width="1"/>
<rect x="790.50" y="533.90" width="45.30" height="20.40" rx="1" fill="#fa00fa" stroke="#111" stroke-width="1"/>
<text x="842.09" y="457.30" font-size="18.00" textLength="39.24" lengthAdjust="spacingAndGlyphs">1/2h</text>
<rect x="842.72" y="454.86" width="4.33" height="3.74" fill="#fdfdfd" shape-rendering="crispEdges"/>
<rect x="849.04" y="454.86" width="4.18" height="3.74" fill="#fdfdfd" shape-rendering="crispEdges"/>
<text x="842.09" y="480.42" font-size="18.00" textLength="22.42" lengthAdjust="spacingAndGlyphs">1h</text>
<rect x="842.72" y="477.98" width="4.33" height="3.74" fill="#fdfdfd" shape-rendering="crispEdges"/>
<rect x="849.04" y="477.98" width="4.18" height="3.74" fill="#fdfdfd" shape-rendering="crispEdges"/>
<text x="842.84" y="503.54" font-size="18.00" textLength="39.24" lengthAdjust="spacingAndGlyphs">3/2h</text>
<text x="842.59" y="526.66" font-size="18.00" textLength="22.42" lengthAdjust="spacingAndGlyphs">2h</text>
<text x="842.84" y="549.78" font-size="18.00" textLength="22.42" lengthAdjust="spacingAndGlyphs">3h</text>
<text x="841.94" y="572.90" font-size="18.00" textLength="40.33" lengthAdjust="spacingAndGlyphs">Raw</text>
<path d="M794.00,567.75H808.40M817.50,567.75H819.25M828.50,567.75H831.50" stroke="#000" stroke-width="3.0" stroke-linecap="round" fill="none"/>
</g>
</svg></body></html>
